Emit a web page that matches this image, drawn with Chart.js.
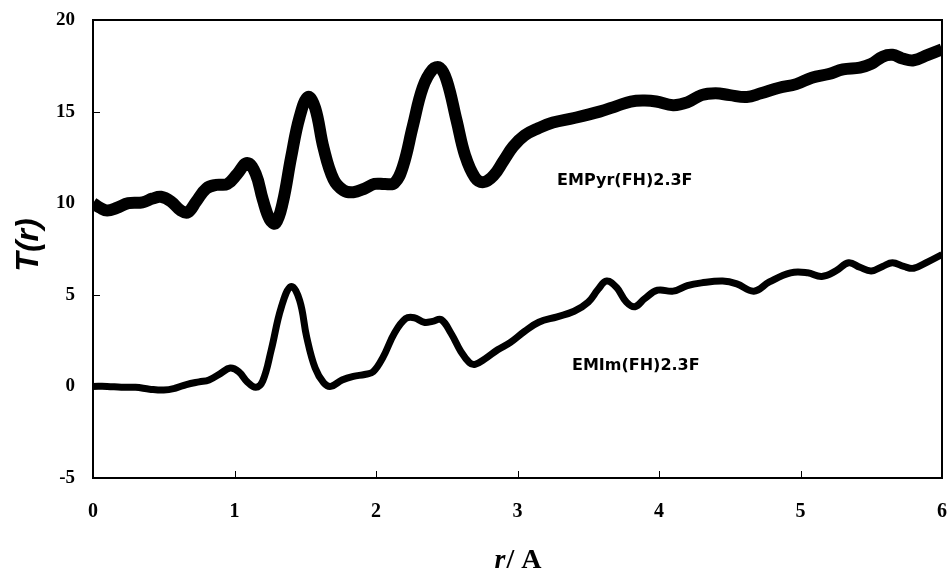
<!DOCTYPE html>
<html lang="en">
<head>
    <meta charset="UTF-8">
    <title>T(r) of EMPyr(FH)2.3F and EMIm(FH)2.3F</title>
    <script src="https://cdn.jsdelivr.net/npm/chart.js"></script>
    <style>
        html, body { margin: 0; padding: 0; background: #fff; }
        #wrap { width: 952px; height: 574px; }
    </style>
</head>
<body>
    <div id="wrap"><canvas id="chart" width="952" height="574"></canvas></div>
    <script>
        // EMPyr(FH)2.3F (upper, thick curve)
        var rPyr = [0.00, 0.05, 0.10, 0.17, 0.25, 0.35, 0.42, 0.48, 0.55, 0.62, 0.67, 0.73, 0.80, 0.87, 0.95,
                    1.02, 1.09, 1.15, 1.20, 1.25, 1.29, 1.34, 1.40, 1.46, 1.52, 1.57, 1.63, 1.70, 1.77, 1.84,
                    1.92, 1.99, 2.06, 2.13, 2.19, 2.26, 2.33, 2.40, 2.45, 2.50, 2.57, 2.63, 2.70, 2.76, 2.83,
                    2.90, 2.97, 3.05, 3.15, 3.25, 3.40, 3.58, 3.70, 3.80, 3.90, 3.98, 4.10, 4.20, 4.30, 4.40,
                    4.50, 4.62, 4.72, 4.85, 4.97, 5.08, 5.20, 5.30, 5.42, 5.50, 5.58, 5.65, 5.72, 5.80, 5.90, 6.00];
        var tPyr = [10.0, 9.75, 9.6, 9.75, 10.0, 10.05, 10.25, 10.35, 10.1, 9.6, 9.5, 10.1, 10.8, 11.0, 11.05,
                    11.6, 12.2, 11.6, 10.2, 9.1, 8.9, 10.0, 12.5, 14.7, 15.8, 15.2, 13.0, 11.3, 10.7, 10.6,
                    10.8, 11.05, 11.05, 11.1, 12.0, 14.2, 16.3, 17.3, 17.4, 16.7, 14.5, 12.6, 11.4, 11.15, 11.5,
                    12.3, 13.1, 13.7, 14.1, 14.4, 14.65, 15.0, 15.3, 15.55, 15.6, 15.55, 15.35, 15.5, 15.9, 16.0,
                    15.9, 15.8, 16.0, 16.3, 16.5, 16.85, 17.05, 17.3, 17.4, 17.6, 18.0, 18.1, 17.9, 17.8, 18.1, 18.4];

        // EMIm(FH)2.3F (lower, thinner curve)
        var rIm = [0.00, 0.10, 0.20, 0.30, 0.40, 0.50, 0.58, 0.66, 0.75, 0.82, 0.90, 0.97, 1.03, 1.09, 1.15,
                   1.20, 1.26, 1.33, 1.40, 1.46, 1.51, 1.57, 1.63, 1.68, 1.76, 1.84, 1.92, 1.98, 2.05, 2.13,
                   2.21, 2.27, 2.34, 2.40, 2.46, 2.53, 2.60, 2.66, 2.70, 2.77, 2.86, 2.95, 3.05, 3.15, 3.28,
                   3.40, 3.50, 3.57, 3.63, 3.70, 3.77, 3.83, 3.90, 3.99, 4.10, 4.20, 4.30, 4.45, 4.55, 4.67,
                   4.78, 4.93, 5.05, 5.15, 5.25, 5.34, 5.42, 5.50, 5.58, 5.65, 5.73, 5.80, 5.90, 6.00];
        var tIm = [0.0, 0.0, -0.05, -0.05, -0.15, -0.2, -0.1, 0.1, 0.25, 0.35, 0.7, 1.0, 0.8, 0.25, -0.05,
                   0.3, 2.0, 4.3, 5.45, 4.7, 2.7, 1.0, 0.2, 0.0, 0.35, 0.55, 0.65, 0.8, 1.6, 2.9,
                   3.7, 3.75, 3.5, 3.55, 3.65, 2.9, 1.9, 1.3, 1.2, 1.5, 2.0, 2.4, 3.0, 3.5, 3.8,
                   4.1, 4.6, 5.3, 5.75, 5.4, 4.6, 4.35, 4.8, 5.25, 5.2, 5.5, 5.65, 5.75, 5.6, 5.2,
                   5.7, 6.2, 6.2, 6.0, 6.3, 6.75, 6.5, 6.3, 6.55, 6.75, 6.55, 6.45, 6.8, 7.2];

        // curve labels and where they sit (data units)
        var labelTexts = ['EMPyr(FH)2.3F', 'EMIm(FH)2.3F'];
        var labelR = [3.28, 3.385];
        var labelT = [11.2, 1.1];

        var xMin = 0, xMax = 6, xStep = 1;
        var yMin = -5, yMax = 20, yStep = 5;

        function toPoints(xs, ys) {
            return xs.map(function (x, i) { return { x: x, y: ys[i] }; });
        }

        // frame, inward ticks, curve labels, axis titles
        var decorations = {
            id: 'decorations',
            beforeDatasetsDraw: function (chart) {
                var ctx = chart.ctx, a = chart.chartArea;
                var xs = chart.scales.x, ys = chart.scales.y;
                ctx.save();
                ctx.strokeStyle = '#000';
                ctx.lineWidth = 2;
                ctx.strokeRect(a.left, a.top, a.right - a.left, a.bottom - a.top);
                ctx.lineWidth = 1;
                ctx.beginPath();
                for (var v = xMin + xStep; v < xMax; v += xStep) {
                    var px = Math.round(xs.getPixelForValue(v)) + 0.5;
                    ctx.moveTo(px, a.bottom);
                    ctx.lineTo(px, a.bottom - 7);
                }
                for (var w = yMin + yStep; w < yMax; w += yStep) {
                    var py = Math.round(ys.getPixelForValue(w)) + 0.5;
                    ctx.moveTo(a.left, py);
                    ctx.lineTo(a.left + 7, py);
                }
                ctx.stroke();
                ctx.restore();
            },
            afterDraw: function (chart) {
                var ctx = chart.ctx, a = chart.chartArea;
                var xs = chart.scales.x, ys = chart.scales.y;
                ctx.save();
                ctx.fillStyle = '#000';

                ctx.font = 'bold 16px "DejaVu Sans"';
                ctx.textAlign = 'left';
                ctx.textBaseline = 'middle';
                labelTexts.forEach(function (t, i) {
                    ctx.fillText(t, xs.getPixelForValue(labelR[i]), ys.getPixelForValue(labelT[i]));
                });

                // x title: italic r, upright "/ A"
                ctx.textBaseline = 'alphabetic';
                var f1 = 'italic bold 28px "Liberation Serif"';
                var f2 = 'bold 28px "Liberation Serif"';
                ctx.font = f1;
                var w1 = ctx.measureText('r').width;
                ctx.font = f2;
                var w2 = ctx.measureText('/ A').width;
                var x0 = (a.left + a.right) / 2 - (w1 + w2) / 2;
                ctx.font = f1;
                ctx.fillText('r', x0, 568);
                ctx.font = f2;
                ctx.fillText('/ A', x0 + w1 + 1, 568);

                // y title
                ctx.translate(29, 245);
                ctx.rotate(-Math.PI / 2);
                ctx.font = 'italic bold 32px "Liberation Sans"';
                ctx.textAlign = 'center';
                ctx.textBaseline = 'middle';
                ctx.fillText('T(r)', 0, 0);
                ctx.restore();
            }
        };

        new Chart(document.getElementById('chart'), {
            type: 'line',
            data: {
                datasets: [{
                    label: 'EMPyr(FH)2.3F',
                    data: toPoints(rPyr, tPyr),
                    borderColor: '#000',
                    borderWidth: 12,
                    pointRadius: 0,
                    tension: 0.4,
                    fill: false
                }, {
                    label: 'EMIm(FH)2.3F',
                    data: toPoints(rIm, tIm),
                    borderColor: '#000',
                    borderWidth: 7,
                    pointRadius: 0,
                    tension: 0.4,
                    fill: false
                }]
            },
            options: {
                responsive: false,
                animation: false,
                layout: { padding: { top: 20, right: 10, left: 0, bottom: 0 } },
                plugins: { legend: { display: false }, tooltip: { enabled: false } },
                scales: {
                    x: {
                        type: 'linear',
                        min: xMin, max: xMax,
                        afterFit: function (s) {
                            s.height = 96;
                            s.paddingLeft = 0;
                            s.paddingRight = 0;
                        },
                        grid: { display: false, drawTicks: false },
                        border: { display: true, color: '#000', width: 2 },
                        ticks: {
                            stepSize: xStep,
                            padding: 22,
                            color: '#000',
                            maxRotation: 0,
                            font: { family: '"Liberation Serif"', size: 20, weight: 'bold' }
                        }
                    },
                    y: {
                        min: yMin, max: yMax,
                        afterFit: function (s) {
                            s.width = 93;
                            s.paddingTop = 0;
                            s.paddingBottom = 0;
                        },
                        grid: { display: false, drawTicks: false },
                        border: { display: true, color: '#000', width: 2 },
                        ticks: {
                            stepSize: yStep,
                            padding: 18,
                            color: '#000',
                            font: { family: '"Liberation Serif"', size: 19, weight: 'bold' }
                        }
                    }
                }
            },
            plugins: [decorations]
        });
    </script>
</body>
</html>
